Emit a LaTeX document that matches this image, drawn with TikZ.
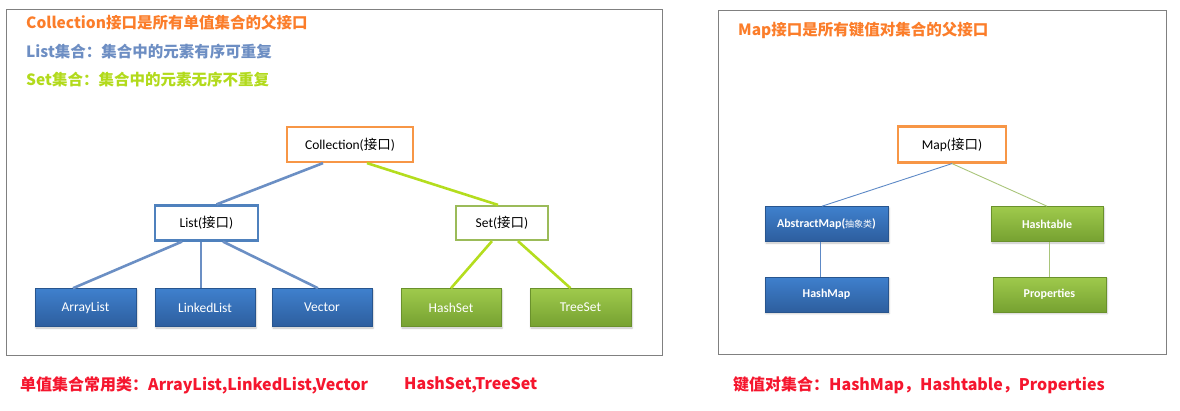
\documentclass[tikz,border=0pt]{standalone}
\usepackage{fontspec}
\setmainfont{Carlito}
\newfontfamily\cjk{Noto Sans CJK SC}
\usepackage{tikz}
\usetikzlibrary{shadows.blur}
\definecolor{framegray}{HTML}{808080}
\definecolor{ifaceorange}{HTML}{F79646}
\definecolor{ifaceblue}{HTML}{4F81BD}
\definecolor{ifacegreen}{HTML}{9BBB59}
\definecolor{linkblue}{HTML}{6B8FC4}
\definecolor{linkgreen}{HTML}{B4DD1E}
\definecolor{thinblue}{HTML}{5D89C6}
\definecolor{thingreen}{HTML}{A9C57A}
\definecolor{headorange}{HTML}{FB7D2A}
\definecolor{headblue}{HTML}{6D8EC3}
\definecolor{headgreen}{HTML}{B2DA1C}
\definecolor{notered}{HTML}{F5162E}
\definecolor{bluetop}{HTML}{3F80CD}
\definecolor{bluebot}{HTML}{2D5E9E}
\definecolor{greentop}{HTML}{9FCA4C}
\definecolor{greenbot}{HTML}{76A131}
\tikzset{
  frame/.style={draw=framegray,line width=1pt},
  headtext/.style={anchor=west,inner sep=0pt,font=\cjk\bfseries\fontsize{15.5pt}{18pt}\selectfont},
  notetext/.style={anchor=west,inner sep=0pt,font=\cjk\bfseries\fontsize{16pt}{19pt}\selectfont,text=notered},
  ifacebox/.style={draw,line width=2.2pt,fill=white,minimum height=35pt,inner sep=0pt,font=\fontsize{13.5pt}{15pt}\selectfont},
  bluebox/.style={draw=bluebot!90!black,line width=0.6pt,top color=bluetop,bottom color=bluebot,text=white,minimum height=38pt,inner sep=0pt,
    blur shadow={shadow xshift=1pt,shadow yshift=-1.5pt,shadow blur steps=4,shadow opacity=25}},
  greenbox/.style={draw=greenbot!90!black,line width=0.6pt,top color=greentop,bottom color=greenbot,text=white,minimum height=38pt,inner sep=0pt,
    blur shadow={shadow xshift=1pt,shadow yshift=-1.5pt,shadow blur steps=4,shadow opacity=25}},
  leftlabel/.style={font=\fontsize{13.5pt}{15pt}\selectfont},
  rightlabel/.style={font=\bfseries\fontsize{12pt}{14pt}\selectfont,minimum height=35pt},
  bluelink/.style={linkblue,line width=2.6pt},
  greenlink/.style={linkgreen,line width=2.6pt},
  thinbluelink/.style={thinblue,line width=0.9pt},
  thingreenlink/.style={thingreen,line width=0.9pt}
}

\begin{document}
\begin{tikzpicture}[x=1pt,y=-1pt]
  \useasboundingbox (0,0) rectangle (1180,410);
  % frames
  \draw[frame] (6,9) rectangle (662,355);
  \draw[frame] (718,10) rectangle (1166,354);

  % headings
  \node[headtext,text=headorange] (collnote) at (26,23) {Collection接口是所有单值集合的父接口};
  \node[headtext,text=headblue] (listnote) at (26,52) {List集合：集合中的元素有序可重复};
  \node[headtext,text=headgreen] (setnote) at (26,80) {Set集合：集合中的元素无序不重复};
  \node[headtext,text=headorange] (mapnote) at (738,30) {Map接口是所有键值对集合的父接口};

  % single value collections
  \node[ifacebox,draw=ifaceorange,minimum width=126pt] (coll) at (350,144.5) {Collection({\cjk 接口})};
  \node[ifacebox,draw=ifaceblue,minimum width=103pt] (list) at (206.5,223) {List({\cjk 接口})};
  \node[ifacebox,draw=ifacegreen,minimum width=92pt,minimum height=34pt] (set) at (502,223) {Set({\cjk 接口})};
  \node[bluebox,leftlabel,minimum width=101pt] (arraylist) at (85.5,307.5) {ArrayList};
  \node[bluebox,leftlabel,minimum width=100pt] (linkedlist) at (205,307.5) {LinkedList};
  \node[bluebox,leftlabel,minimum width=100pt] (vector) at (322,307.5) {Vector};
  \node[greenbox,leftlabel,minimum width=100pt] (hashset) at (451,307.5) {HashSet};
  \node[greenbox,leftlabel,minimum width=101pt] (treeset) at (580.5,307.5) {TreeSet};

  \draw[bluelink] ([xshift=-27pt]coll.south) -- ([xshift=10pt]list.north);
  \draw[greenlink] ([xshift=17pt]coll.south) -- ([xshift=-4pt]set.north);
  \draw[bluelink] ([xshift=-24.5pt]list.south) -- ([xshift=-12.5pt]arraylist.north);
  \draw[bluelink] ([xshift=-5.5pt]list.south) -- ([xshift=-4pt]linkedlist.north);
  \draw[bluelink] ([xshift=16.5pt]list.south) -- ([xshift=-4pt]vector.north);
  \draw[greenlink] ([xshift=-10pt]set.south) -- (hashset.north);
  \draw[greenlink] ([xshift=16pt]set.south) -- ([xshift=-10pt]treeset.north);

  % key-value collections
  \node[ifacebox,draw=ifaceorange,minimum width=108pt,minimum height=36pt] (map) at (952,144.5) {Map({\cjk 接口})};
  \node[bluebox,rightlabel,minimum width=123pt] (abstractmap) at (826.5,224) {AbstractMap({\cjk\mdseries\fontsize{9pt}{10pt}\selectfont 抽象类})};
  \node[greenbox,rightlabel,minimum width=112pt] (hashtable) at (1047,224) {Hashtable};
  \node[bluebox,rightlabel,minimum width=123pt] (hashmap) at (826.5,294.5) {HashMap};
  \node[greenbox,rightlabel,minimum width=113pt] (properties) at (1049.5,294.5) {Properties};

  \draw[thinbluelink] (map.south) -- ([xshift=-4.5pt]abstractmap.north);
  \draw[thingreenlink] (map.south) -- (hashtable.north);
  \draw[thinbluelink] ([xshift=-6.5pt]abstractmap.south) -- ([xshift=-6.5pt]hashmap.north);
  \draw[thingreenlink] ([xshift=2pt]hashtable.south) -- ([xshift=-0.5pt]properties.north);

  % notes below the frames
  \node[notetext] (listclasses) at (20,385) {单值集合常用类：ArrayList,LinkedList,Vector};
  \node[notetext] (setclasses) at (404,385) {HashSet,TreeSet};
  \node[notetext] (mapclasses) at (733,385) {键值对集合：HashMap，Hashtable，Properties};
\end{tikzpicture}
\end{document}
